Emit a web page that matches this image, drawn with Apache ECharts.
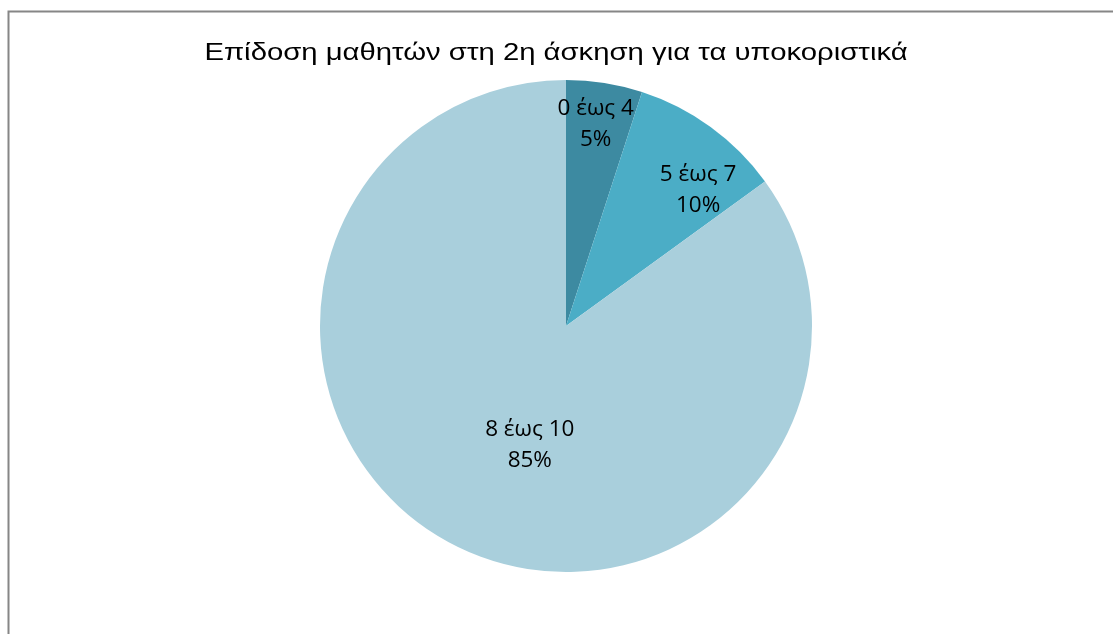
<!DOCTYPE html>
<html>
<head>
<meta charset="utf-8">
<script src="https://cdn.jsdelivr.net/npm/echarts@6/dist/echarts.min.js"></script>
<style>
  html, body { margin: 0; padding: 0; background: #fff; }
  #chart { width: 1113px; height: 634px; }
</style>
</head>
<body>
<div id="chart"></div>
<script>
// Score bands and share of pupils in each band
const categories = ['0 έως 4', '5 έως 7', '8 έως 10'];
const values = [5, 10, 85];
const colors = ['#3D8AA1', '#4BADC6', '#A9CFDC'];
const titleText = 'Επίδοση μαθητών στη 2η άσκηση για τα υποκοριστικά';
// Nudges that move each label away from the slice midpoint
const labelOffsets = [[10, -77], [58, -34], [21, 7]];

const chart = echarts.init(document.getElementById('chart'), null, { renderer: 'canvas' });

chart.setOption({
  backgroundColor: '#ffffff',
  animation: false,
  graphic: [{
    type: 'rect',
    shape: { x: 8.5, y: 11.5, width: 1200, height: 700 },
    style: { fill: 'none', stroke: '#868686', lineWidth: 2 },
    silent: true,
    z: 0
  }, {
    // Title drawn in a slightly wide setting
    type: 'text',
    x: 556,
    y: 53,
    scaleX: 1.22,
    originX: 0,
    originY: 0,
    silent: true,
    z: 10,
    style: {
      text: titleText,
      x: 0,
      y: 0,
      align: 'center',
      verticalAlign: 'middle',
      font: '24px "Liberation Sans", Arial, sans-serif',
      fill: '#000000'
    }
  }],
  series: [{
    type: 'pie',
    center: [566, 326],
    radius: [0, 246],
    startAngle: 90,
    clockwise: true,
    avoidLabelOverlap: false,
    label: {
      show: true,
      position: 'inside',
      formatter: p => p.name + '\n' + p.percent.toFixed(0) + '%',
      fontFamily: '"Open Sans", Lato, sans-serif',
      fontSize: 22.5,
      lineHeight: 31,
      color: '#000000',
      align: 'center'
    },
    labelLine: { show: false },
    itemStyle: { borderWidth: 0 },
    emphasis: { disabled: true },
    data: categories.map((name, i) => ({
      name: name,
      value: values[i],
      itemStyle: { color: colors[i] },
      label: { offset: labelOffsets[i] }
    }))
  }]
});
</script>
</body>
</html>
